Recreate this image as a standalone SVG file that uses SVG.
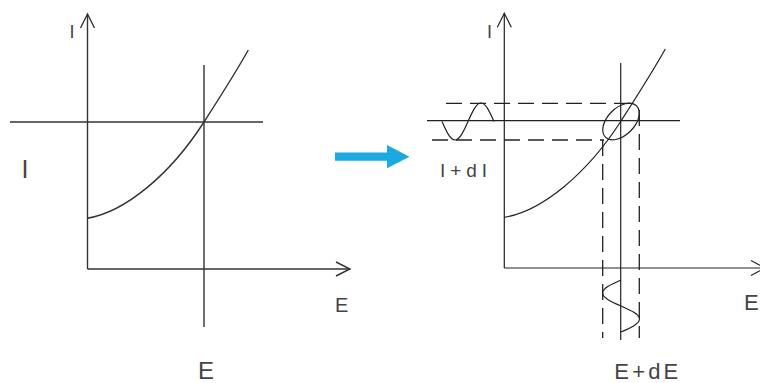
<svg xmlns="http://www.w3.org/2000/svg" width="760" height="383" viewBox="0 0 760 383">
<defs>
<style>
.ln{fill:none;stroke:#333;stroke-width:1.4}
.th{fill:none;stroke:#222;stroke-width:1.2}
.ds{fill:none;stroke:#222;stroke-width:1.3;stroke-dasharray:16 8}
.lb{font-family:"Liberation Sans",Arial,sans-serif;fill:#444}
</style>
</defs>
<rect width="760" height="383" fill="#fff"/>
<g id="plot-left">
<line class="ln" x1="87.5" y1="14" x2="87.5" y2="269"/>
<line class="ln" x1="87.5" y1="269" x2="350" y2="269"/>
<polyline class="ln" points="80.5,28 87.5,14 94.5,28"/>
<polyline class="ln" points="336,262 350,269 336,276"/>
<line class="ln" x1="10" y1="122" x2="263" y2="122"/>
<line class="ln" x1="204" y1="65" x2="204" y2="327"/>
<path id="curve" class="ln" d="M87.3,218.3 C125,212 170,175 204,122 C219,98.6 234.9,74 248.3,50"/>
<text class="lb" x="69.5" y="38" font-size="18">I</text>
<text class="lb" x="21.5" y="178" font-size="25">I</text>
<text class="lb" x="335" y="312" font-size="20">E</text>
<text class="lb" x="198" y="379" font-size="24">E</text>
</g>
<g id="plot-right">
<line class="th" x1="504.3" y1="13.3" x2="504.3" y2="268"/>
<line class="th" x1="504.3" y1="268" x2="765" y2="268"/>
<polyline class="th" points="497.3,27.3 504.3,13.3 511.3,27.3"/>
<polyline class="th" points="751,260.5 765,268 751,275.5"/>
<line class="th" x1="427" y1="120.7" x2="680" y2="120.7"/>
<line class="th" x1="620.7" y1="63" x2="620.7" y2="340"/>
<path class="th" d="M87.3,218.3 C125,212 170,175 204,122 C219,98.6 234.9,74 248.3,50" transform="translate(417,-1)"/>
<line class="ds" x1="446" y1="103.3" x2="637" y2="103.3"/>
<line class="ds" x1="432" y1="140" x2="604" y2="140"/>
<line class="ds" x1="602.7" y1="140" x2="602.7" y2="338"/>
<line class="ds" x1="639.3" y1="110" x2="639.3" y2="338"/>
<ellipse class="th" cx="0" cy="0" rx="22" ry="13.5" transform="translate(621,121.5) rotate(-45)"/>
<path class="th" d="M442,121.5 C446.3,131.2 450.3,140 455,140 C459.7,140 463.7,131.2 468,121.5 C472.3,111.8 476.3,103 481,103 C485.7,103 489.7,111.8 494,121.5"/>
<path class="th" d="M621,280 C611.3,284.3 602.5,288.3 602.5,293 C602.5,297.7 611.3,301.7 621,306 C630.7,310.3 639.5,314.3 639.5,319 C639.5,323.7 630.7,327.7 621,332"/>
<text class="lb" x="487" y="38" font-size="18">I</text>
<text class="lb" x="440" y="176.7" font-size="19" textLength="47" lengthAdjust="spacing">I+dI</text>
<text class="lb" x="614.3" y="379.3" font-size="22" textLength="64" lengthAdjust="spacing">E+dE</text>
<text class="lb" x="744" y="310" font-size="22">E</text>
</g>
<g id="connectors">
<polygon fill="#1AAAE2" points="335,152.5 387,152.5 387,145 409.5,156.7 387,168.3 387,160.7 335,160.7"/>
</g>
</svg>
